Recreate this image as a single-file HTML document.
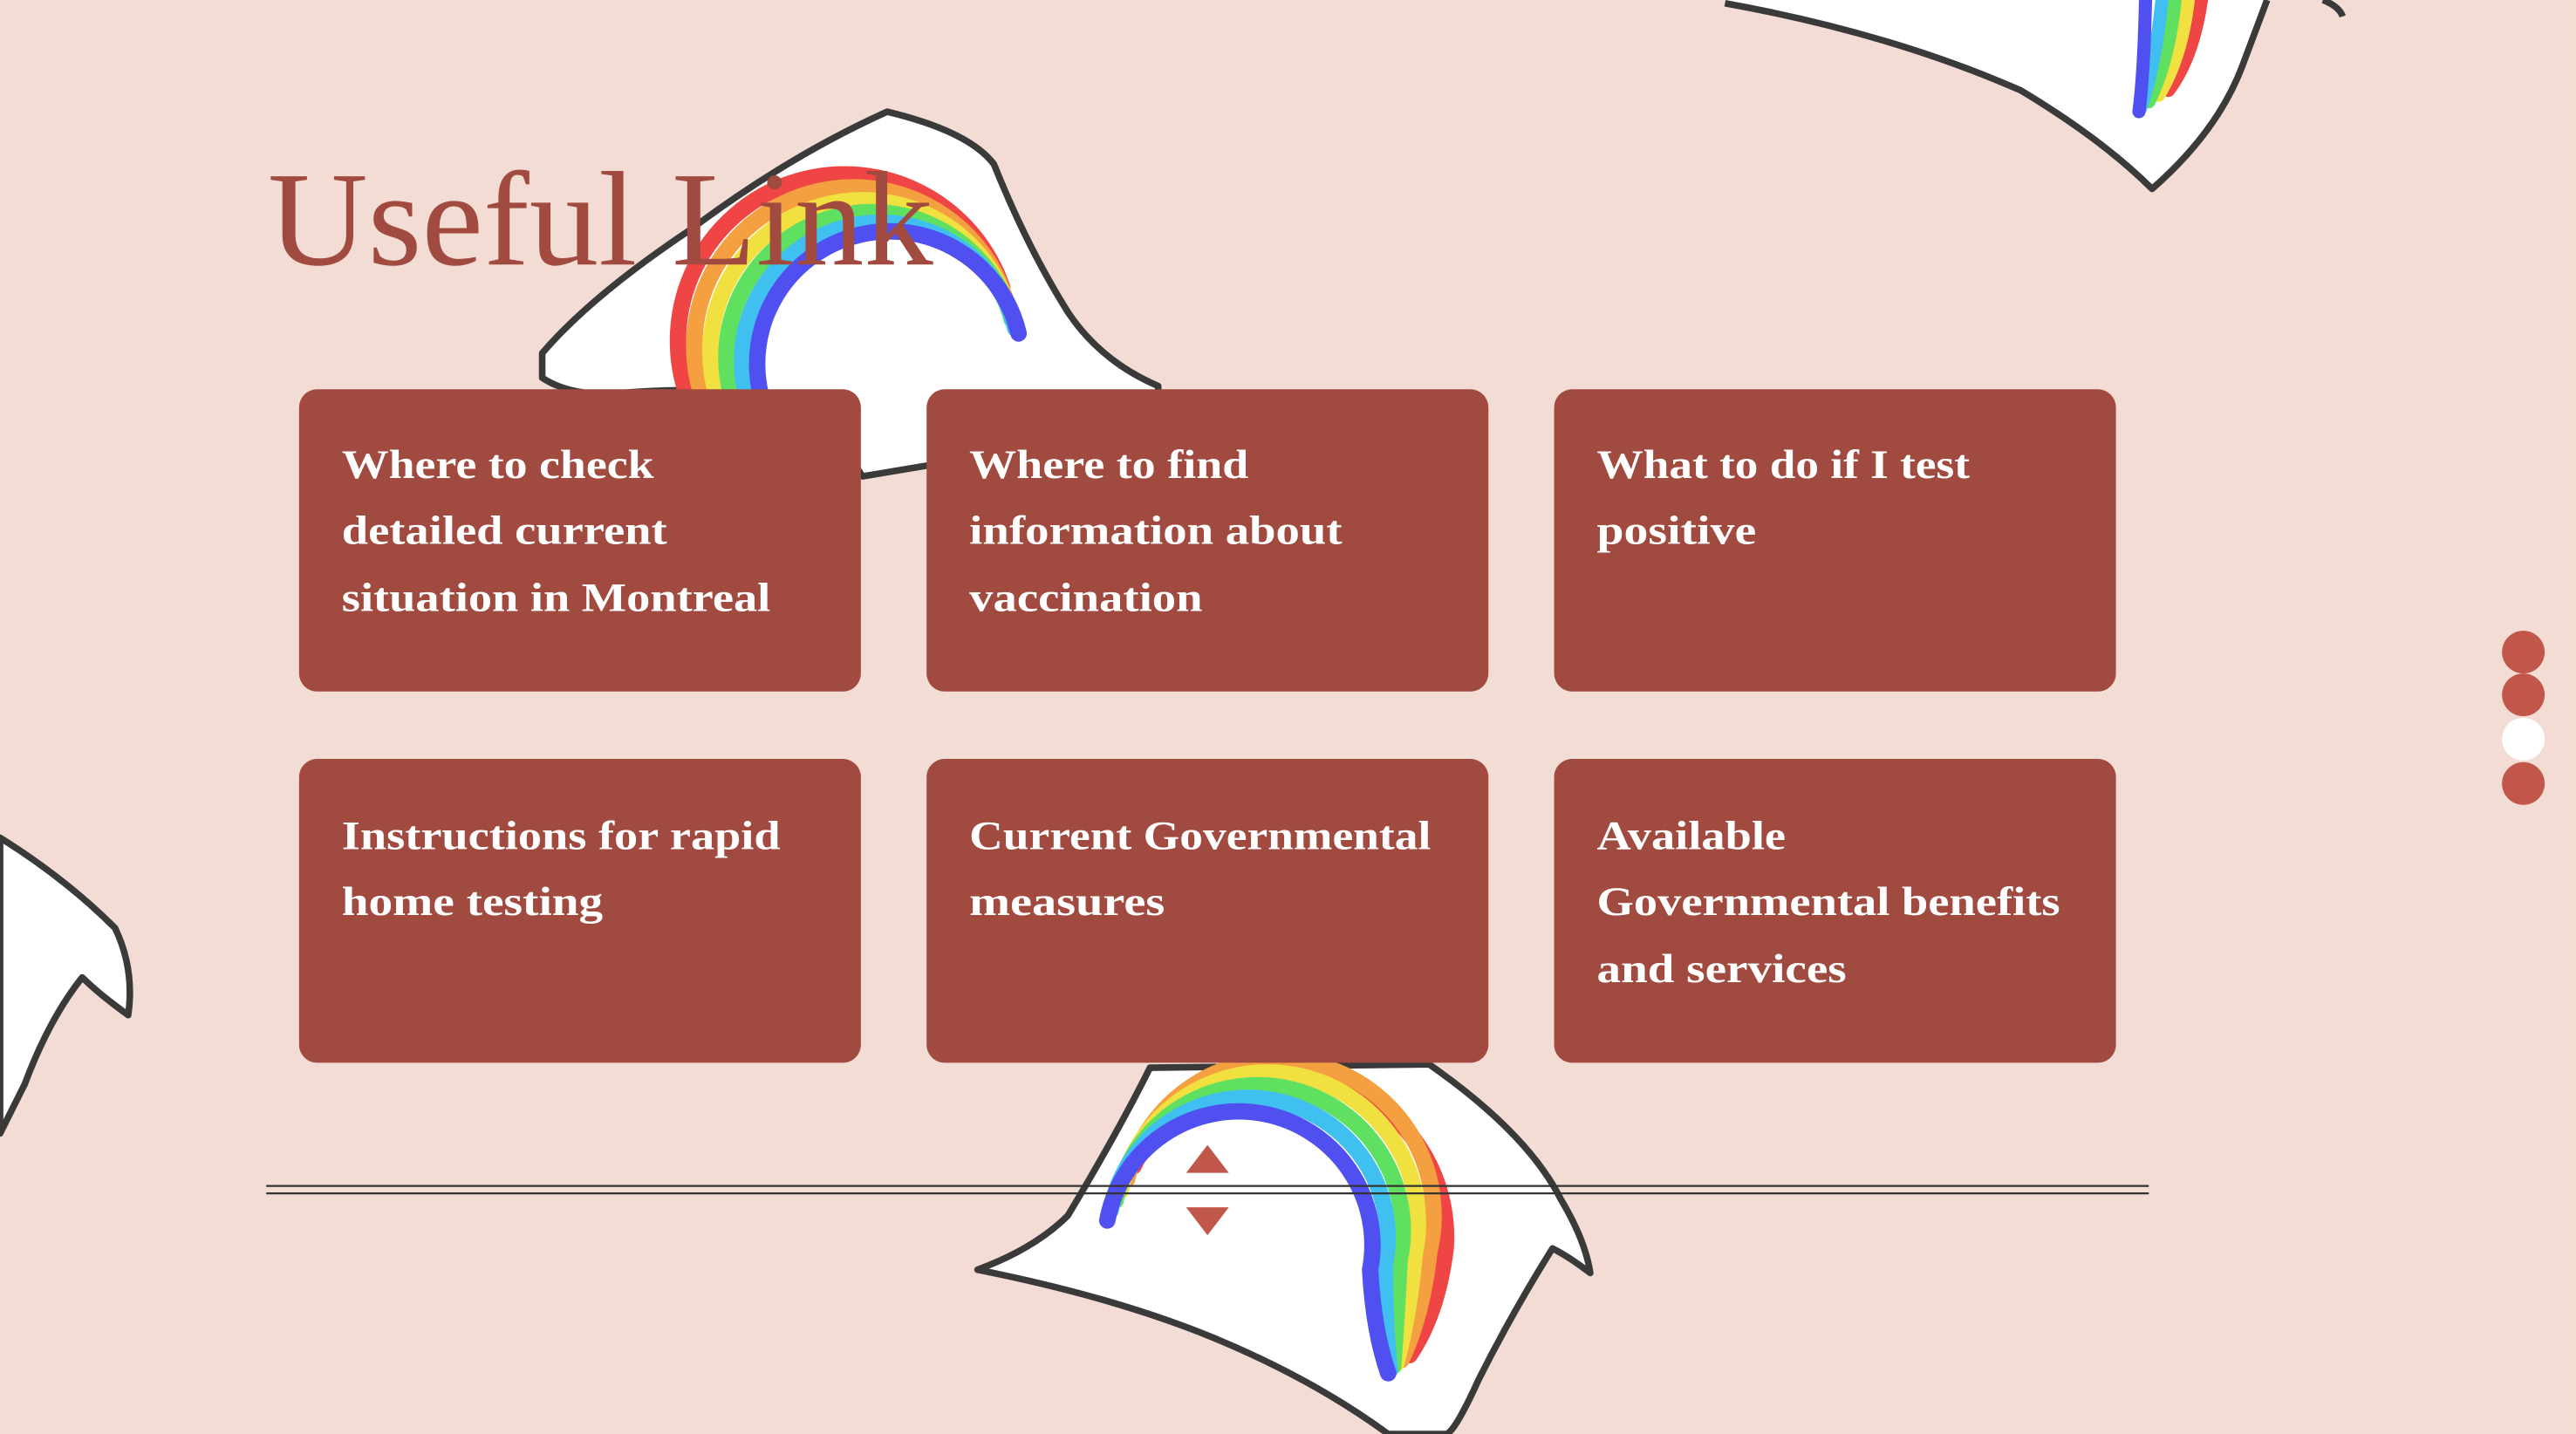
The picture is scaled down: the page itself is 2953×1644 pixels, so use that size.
<!DOCTYPE html>
<html><head><meta charset="utf-8"><style>
html,body{margin:0;padding:0;background:#f3dcd3;overflow:hidden}
svg{display:block}
</style></head><body>
<svg width="2953" height="1644" viewBox="0 0 1568 873" xmlns="http://www.w3.org/2000/svg">
<rect width="1568" height="873" fill="#f3dcd3"/>
<!-- top-left flag -->
<path d="M330,215 Q360,180 420,140 Q480,95 540,68 Q590,80 605,100 Q625,150 650,190 Q670,220 705,235 L705,260 L525,290 Q500,250 470,240 Q420,235 370,240 Q345,240 330,230 Z" fill="#fff" stroke="#3a3a3a" stroke-width="4" stroke-linejoin="round"/>
<g fill="none" stroke-linecap="round" stroke-width="10">
<path d="M418,240 A100,100 0 0 1 610,175" stroke="#f04545"/>
<path d="M427,240 A92,92 0 0 1 612,182" stroke="#f5a040"/>
<path d="M436,240 A84,84 0 0 1 614,189" stroke="#f0e040"/>
<path d="M445,240 A76,76 0 0 1 616,195" stroke="#60e060"/>
<path d="M454,240 A68,68 0 0 1 618,200" stroke="#40c0f0"/>
<path d="M463,240 A60,60 0 0 1 620,203" stroke="#5050f0"/>
</g>
<!-- top-right flag -->
<path d="M1050,0 L1050,2 Q1150,20 1230,55 Q1280,85 1310,115 Q1350,80 1365,40 L1380,0 Z" fill="#fff"/>
<path d="M1050,2 Q1150,20 1230,55 Q1280,85 1310,115 Q1350,80 1365,40 L1380,0" fill="none" stroke="#3a3a3a" stroke-width="4" stroke-linejoin="round"/>
<path d="M1414,0 Q1424,4 1426,10" fill="none" stroke="#3a3a3a" stroke-width="4"/>
<g fill="none" stroke-linecap="round" stroke-width="8">
<path d="M1340,0 Q1335,35 1320,55" stroke="#f04545"/>
<path d="M1332,0 Q1328,35 1314,58" stroke="#f0e040"/>
<path d="M1324,0 Q1320,38 1308,62" stroke="#60e060"/>
<path d="M1316,0 Q1312,40 1303,66" stroke="#40c0f0"/>
<path d="M1306,0 Q1305,45 1302,68" stroke="#5050f0"/>
</g>
<!-- left flag -->
<path d="M0,510 Q40,535 70,565 Q82,590 78,618 Q60,605 50,595 Q30,620 15,660 L0,690 Z" fill="#fff" stroke="#3a3a3a" stroke-width="4" stroke-linejoin="round"/>
<!-- bottom flag -->
<path d="M700,650 L870,648 Q930,690 950,730 Q965,755 968,775 Q955,765 945,760 Q920,800 900,840 Q885,873 880,873 L845,873 Q800,840 740,815 Q680,790 595,773 Q630,760 650,740 Q680,690 700,650 Z" fill="#fff" stroke="#3a3a3a" stroke-width="4" stroke-linejoin="round"/>
<g fill="none" stroke-linecap="round" stroke-width="10">
<path d="M690,710 A100,100 0 0 1 880,760 Q875,800 858,825" stroke="#f04545"/>
<path d="M686,718 A92,92 0 0 1 870,762 Q866,800 853,828" stroke="#f5a040"/>
<path d="M682,725 A84,84 0 0 1 861,764 Q858,800 850,830" stroke="#f0e040"/>
<path d="M679,731 A76,76 0 0 1 852,767 Q850,805 848,832" stroke="#60e060"/>
<path d="M676,737 A68,68 0 0 1 843,770 Q843,808 846,834" stroke="#40c0f0"/>
<path d="M674,743 A60,60 0 0 1 834,773 Q836,810 845,836" stroke="#5050f0"/>
</g>
<!-- title -->
<text x="163" y="161" font-family="Liberation Serif, serif" font-size="82" fill="#a04a40" textLength="405" lengthAdjust="spacingAndGlyphs">Useful Link</text>
<!-- cards -->
<g fill="#a04a40">
<rect x="182" y="237" width="342" height="184" rx="11"/>
<rect x="564" y="237" width="342" height="184" rx="11"/>
<rect x="946" y="237" width="342" height="184" rx="11"/>
<rect x="182" y="462" width="342" height="185" rx="11"/>
<rect x="564" y="462" width="342" height="185" rx="11"/>
<rect x="946" y="462" width="342" height="185" rx="11"/>
</g>
<g font-family="Liberation Serif, serif" font-weight="bold" font-size="25" fill="#fff" lengthAdjust="spacingAndGlyphs">
<text x="208" y="291" textLength="190" lengthAdjust="spacingAndGlyphs">Where to check</text>
<text x="208" y="331" textLength="198" lengthAdjust="spacingAndGlyphs">detailed current</text>
<text x="208" y="372" textLength="261" lengthAdjust="spacingAndGlyphs">situation in Montreal</text>
<text x="590" y="291" textLength="170" lengthAdjust="spacingAndGlyphs">Where to find</text>
<text x="590" y="331" textLength="227" lengthAdjust="spacingAndGlyphs">information about</text>
<text x="590" y="372" textLength="142" lengthAdjust="spacingAndGlyphs">vaccination</text>
<text x="972" y="291" textLength="227" lengthAdjust="spacingAndGlyphs">What to do if I test</text>
<text x="972" y="331" textLength="97" lengthAdjust="spacingAndGlyphs">positive</text>
<text x="208" y="517" textLength="267" lengthAdjust="spacingAndGlyphs">Instructions for rapid</text>
<text x="208" y="557" textLength="159" lengthAdjust="spacingAndGlyphs">home testing</text>
<text x="590" y="517" textLength="281" lengthAdjust="spacingAndGlyphs">Current Governmental</text>
<text x="590" y="557" textLength="119" lengthAdjust="spacingAndGlyphs">measures</text>
<text x="972" y="517" textLength="115" lengthAdjust="spacingAndGlyphs">Available</text>
<text x="972" y="557" textLength="282" lengthAdjust="spacingAndGlyphs">Governmental benefits</text>
<text x="972" y="598" textLength="152" lengthAdjust="spacingAndGlyphs">and services</text>
</g>
<!-- lines -->
<line x1="162" y1="722" x2="1308" y2="722" stroke="#333" stroke-width="1.2"/>
<line x1="162" y1="726.5" x2="1308" y2="726.5" stroke="#333" stroke-width="1.2"/>
<path d="M722,714 L735,697 L748,714 Z" fill="#c0574a"/>
<path d="M722,735 L748,735 L735,752 Z" fill="#c0574a"/>
<!-- nav dots -->
<circle cx="1536" cy="397" r="13" fill="#c0574a"/>
<circle cx="1536" cy="423" r="13" fill="#c0574a"/>
<circle cx="1536" cy="450" r="13" fill="#fff"/>
<circle cx="1536" cy="477" r="13" fill="#c0574a"/>
</svg>
</body></html>
